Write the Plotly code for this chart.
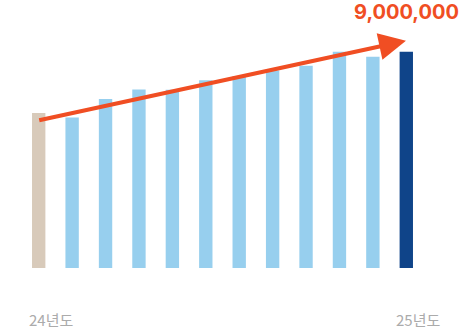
import plotly.graph_objects as go

categories = ["24년도", "1", "2", "3", "4", "5", "6", "7", "8", "9", "10", "25년도"]
values = [6450000, 6270000, 7040000, 7430000, 7420000, 7820000,
          8000000, 8220000, 8420000, 9000000, 8800000, 9000000]
bar_colors = ["#D8CABA"] + ["#97CFEE"] * 10 + ["#0F4489"]
target_label = "9,000,000"
trend_start = 6140000
trend_end = 9460000
axis_labels = ["24년도", "25년도"]

x_idx = list(range(len(categories)))

fig = go.Figure()
fig.add_trace(go.Bar(
    x=x_idx, y=values,
    marker=dict(color=bar_colors, line=dict(width=0)),
    hoverinfo="skip",
))

# trend arrow
fig.add_annotation(
    x=10.99, y=trend_end, xref="x", yref="y",
    ax=-0.03, ay=trend_start, axref="x", ayref="y",
    text="", showarrow=True,
    arrowhead=2, arrowsize=1.35, arrowwidth=4, arrowcolor="#F04E23",
)

fig.add_annotation(
    x=11, y=1, xref="x", yref="paper", yshift=-12,
    text=target_label, showarrow=False,
    xanchor="center", yanchor="middle",
    font=dict(family="Inter", size=20, color="#F04E23", weight=700),
)

for xi, lab in zip([0, 11], axis_labels):
    fig.add_annotation(
        x=xi, y=0, xref="x", yref="paper", xshift=12, yshift=-51,
        text=lab, showarrow=False, xanchor="center", yanchor="middle",
        font=dict(family="Noto Sans CJK KR", size=15, color="#ABABAB"),
    )

fig.update_layout(
    width=460, height=330,
    margin=dict(l=22, r=37, t=0, b=62),
    paper_bgcolor="white", plot_bgcolor="white",
    bargap=0.6, showlegend=False,
    xaxis=dict(range=[-0.5, 11.5], visible=False, fixedrange=True),
    yaxis=dict(range=[0, 11160000], visible=False, fixedrange=True),
)

fig.write_html("out.html", config={"displayModeBar": False})
